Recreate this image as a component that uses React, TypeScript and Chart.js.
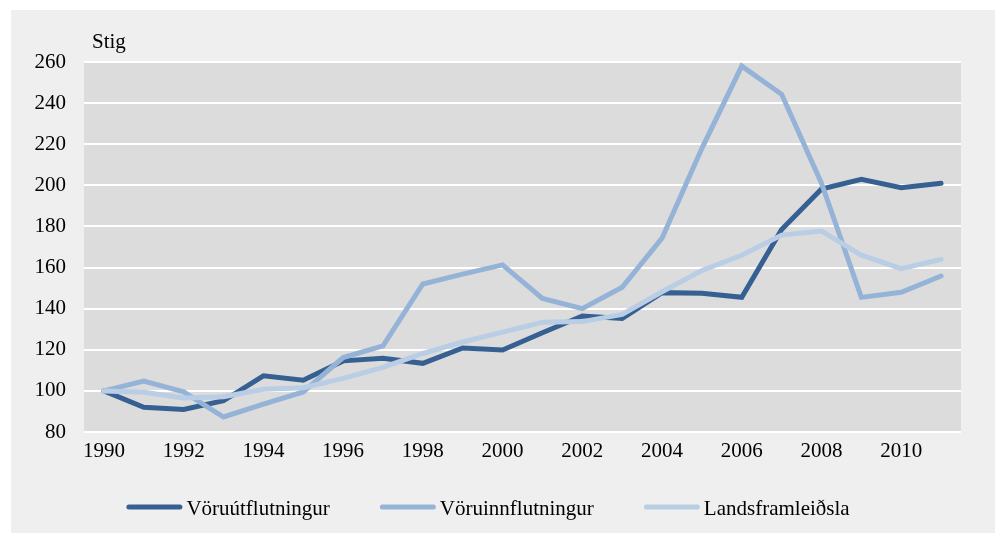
import React, { useEffect, useRef } from "react";
import { Chart, registerables } from "chart.js";

Chart.register(...registerables);

const years = ["1990","1991","1992","1993","1994","1995","1996","1997","1998","1999","2000","2001","2002","2003","2004","2005","2006","2007","2008","2009","2010","2011"];
const exportsGoods = [100, 92, 91, 95.2, 107.3, 105.2, 114.6, 115.9, 113.4, 120.9, 119.9, 128.3, 136.4, 135.2, 147.8, 147.5, 145.5, 178.5, 198.2, 202.9, 198.8, 201];
const importsGoods = [100, 104.8, 99.5, 87.3, 93.6, 99.5, 116.2, 121.9, 152, 156.8, 161.3, 145, 140, 150.4, 174.3, 218, 258, 244.3, 201, 145.5, 148, 155.9];
const gdp = [100, 99.3, 96.5, 97.2, 100.8, 101.5, 106.1, 111.4, 118.2, 123.8, 128.6, 133.4, 133.7, 137.2, 148.2, 158.6, 166, 175.8, 177.8, 166, 159.5, 164];
const seriesNames = ["Vöruútflutningur", "Vöruinnflutningur", "Landsframleiðsla"];
const seriesColors = ["#376092", "#95b3d7", "#b9cde5"];
const yAxisLabel = "Stig";

const FONT = "'Liberation Serif', 'Times New Roman', serif";

const bgPlugin = {
  id: "bgPlugin",
  beforeDraw(chart: any) {
    const { ctx, chartArea, width, height } = chart;
    ctx.save();
    ctx.fillStyle = "#ffffff";
    ctx.fillRect(0, 0, width, height);
    ctx.fillStyle = "#efefef";
    ctx.fillRect(11, 10, 984, height - 10);
    ctx.fillStyle = "#dcdcdc";
    ctx.fillRect(chartArea.left, chartArea.top, chartArea.right - chartArea.left, chartArea.bottom - chartArea.top);
    ctx.restore();
  },
  afterDraw(chart: any) {
    const { ctx } = chart;
    ctx.save();
    ctx.fillStyle = "#000";
    ctx.font = `21px ${FONT}`;
    ctx.textBaseline = "alphabetic";
    ctx.textAlign = "left";
    ctx.fillText(yAxisLabel, 92, 48);

    // legend
    const ds = chart.data.datasets;
    const boxW = 56;
    const gapBoxText = 4;
    const gapItems = 50;
    const widths = ds.map((d: any) => ctx.measureText(d.label).width);
    const total = widths.reduce((a: number, w: number) => a + boxW + gapBoxText + w, 0) + gapItems * (ds.length - 1);
    let x = 488 - total / 2;
    const lineY = 507;
    const baseY = 515;
    ds.forEach((d: any, i: number) => {
      ctx.strokeStyle = d.borderColor;
      ctx.lineWidth = 5;
      ctx.lineCap = "round";
      ctx.beginPath();
      ctx.moveTo(x + 2.5, lineY);
      ctx.lineTo(x + boxW - 2.5, lineY);
      ctx.stroke();
      x += boxW + gapBoxText;
      ctx.fillStyle = "#000";
      ctx.fillText(d.label, x, baseY);
      x += widths[i] + gapItems;
    });
    ctx.restore();
  },
};

export default function App() {
  const ref = useRef<HTMLCanvasElement>(null);
  useEffect(() => {
    if (!ref.current) return;
    const data = [exportsGoods, importsGoods, gdp];
    const chart = new Chart(ref.current, {
      type: "line",
      data: {
        labels: years,
        datasets: data.map((d, i) => ({
          label: seriesNames[i],
          data: d,
          borderColor: seriesColors[i],
          backgroundColor: seriesColors[i],
          borderWidth: 5,
          pointRadius: 0,
          tension: 0,
          borderCapStyle: "round",
          borderJoinStyle: "miter",
          order: 2 - i,
        })),
      },
      options: {
        responsive: false,
        animation: false,
        layout: { padding: { left: 11, right: 39, top: 62, bottom: 61 } },
        plugins: {
          tooltip: { enabled: false },
          legend: { display: false },
        },
        scales: {
          x: {
            offset: true,
            grid: { display: false, drawTicks: false },
            border: { display: false },
            ticks: {
              color: "#000",
              font: { family: FONT, size: 21 },
              padding: 7,
              maxRotation: 0,
              autoSkip: false,
              callback: (_v: any, idx: number) => (idx % 2 === 0 ? years[idx] : ""),
            },
            afterFit: (s: any) => { s.height = 40; },
          },
          y: {
            min: 80,
            max: 260,
            grid: { color: "#ffffff", lineWidth: 2, drawTicks: false },
            border: { display: false },
            ticks: {
              stepSize: 20,
              color: "#000",
              font: { family: FONT, size: 21 },
              padding: 18,
            },
            afterFit: (s: any) => { s.width = 73; },
          },
        },
      },
      plugins: [bgPlugin],
    });
    return () => chart.destroy();
  }, []);
  return (
    <div style={{ position: "fixed", left: 0, top: 0, width: 1000, height: 533 }}>
      <canvas ref={ref} width={1000} height={533} style={{ display: "block" }} />
    </div>
  );
}
